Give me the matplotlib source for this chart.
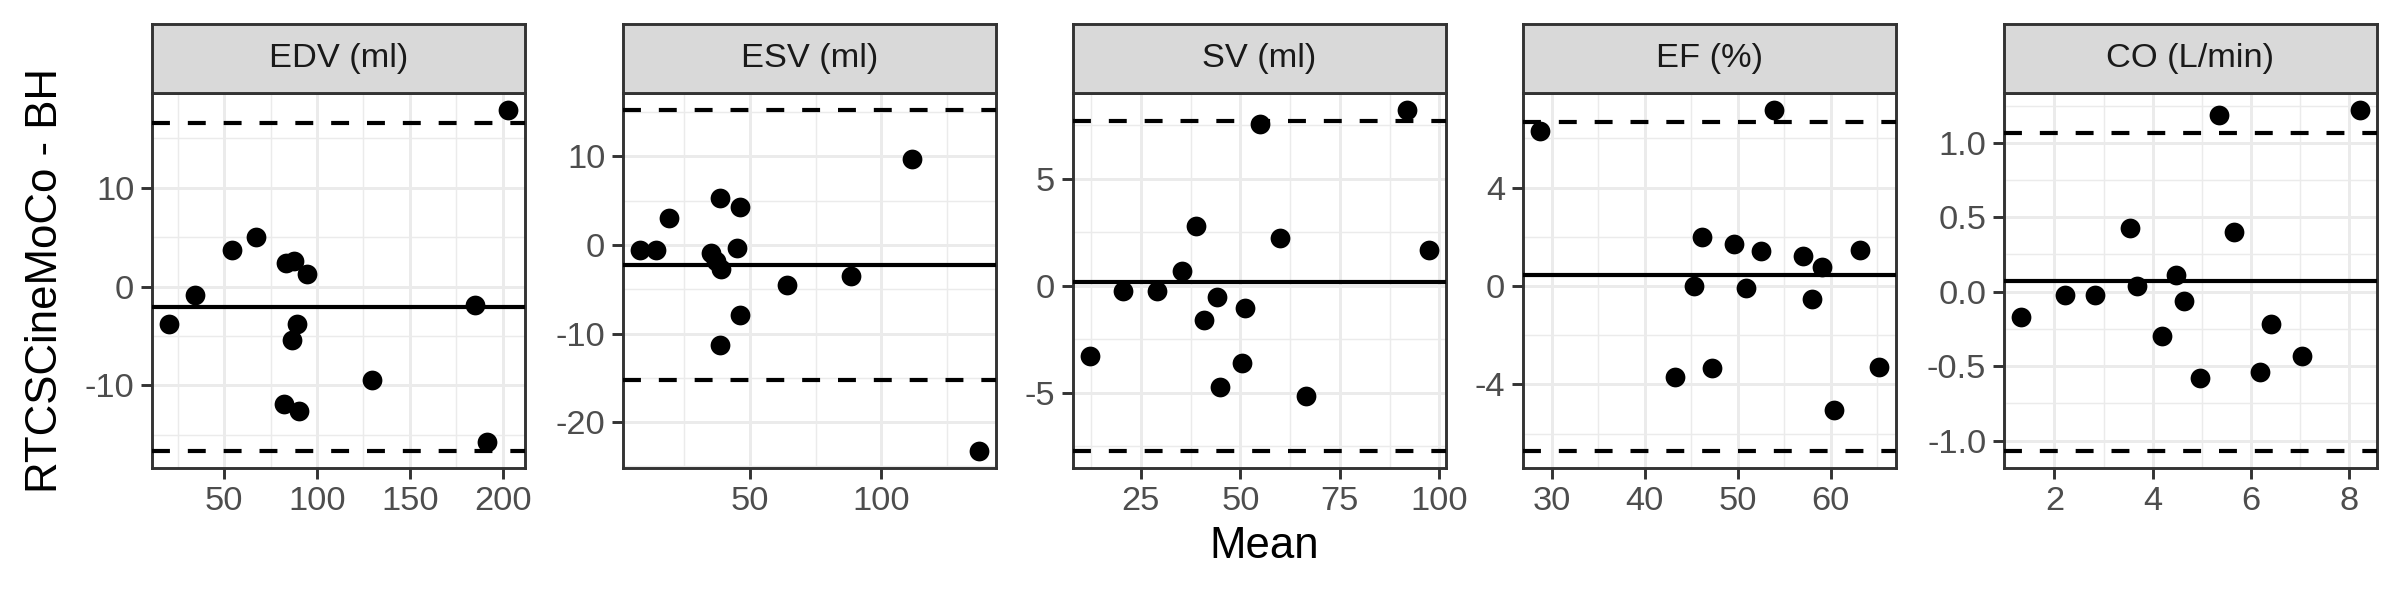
import matplotlib
matplotlib.use("Agg")
import matplotlib.pyplot as plt
from matplotlib.ticker import MultipleLocator, FormatStrFormatter

plt.rcParams['font.family'] = ['Liberation Sans', 'DejaVu Sans']
plt.rcParams['axes.unicode_minus'] = False

# facet titles
titles = ["EDV (ml)", "ESV (ml)", "SV (ml)", "EF (%)", "CO (L/min)"]

# mean of the two methods (x) and difference RTCSCineMoCo - BH (y)
edv_mean = [20.2, 34.2, 54.4, 67.1, 83.1, 87.5, 94.6, 89.4, 86.5, 82.1, 90.4, 129.8, 185.0, 191.3, 202.9]
edv_diff = [-3.75, -0.85, 3.71, 5.07, 2.40, 2.63, 1.28, -3.79, -5.45, -11.9, -12.6, -9.44, -1.82, -15.7, 17.87]

esv_mean = [8.2, 14.3, 19.1, 38.6, 46.2, 35.2, 37.1, 39.0, 45.3, 64.1, 88.4, 46.2, 38.6, 111.8, 137.2]
esv_diff = [-0.52, -0.60, 3.06, 5.35, 4.27, -0.95, -1.81, -2.76, -0.39, -4.57, -3.50, -7.86, -11.35, 9.75, -23.26]

sv_mean = [12.2, 20.6, 29.0, 35.4, 38.8, 40.9, 44.2, 44.9, 50.5, 51.1, 54.8, 59.9, 66.4, 91.8, 97.4]
sv_diff = [-3.30, -0.27, -0.27, 0.68, 2.80, -1.63, -0.55, -4.73, -3.63, -1.05, 7.57, 2.23, -5.14, 8.20, 1.64]

ef_mean = [28.7, 53.85, 43.2, 45.3, 46.1, 47.2, 49.6, 50.9, 52.45, 57.0, 58.0, 59.1, 60.3, 63.1, 65.2]
ef_diff = [6.31, 7.15, -3.69, 0.02, 2.0, -3.33, 1.69, -0.09, 1.41, 1.22, -0.53, 0.76, -5.02, 1.47, -3.27]

co_mean = [1.32, 2.22, 2.82, 3.54, 3.68, 4.47, 4.64, 4.20, 4.97, 5.35, 5.65, 6.18, 6.41, 7.03, 8.22]
co_diff = [-0.17, -0.02, -0.02, 0.425, 0.04, 0.11, -0.06, -0.30, -0.58, 1.19, 0.40, -0.54, -0.22, -0.43, 1.22]

# bias and limits of agreement
bias = [-2.05, -2.24, 0.18, 0.43, 0.072]
loa_upper = [16.56, 15.24, 7.70, 6.65, 1.065]
loa_lower = [-16.63, -15.28, -7.73, -6.70, -1.07]

means = [edv_mean, esv_mean, sv_mean, ef_mean, co_mean]
diffs = [edv_diff, esv_diff, sv_diff, ef_diff, co_diff]

# major / minor tick steps per panel (x, y)
x_steps = [(50, 25), (50, 25), (25, 12.5), (10, 5), (2, 1)]
y_steps = [(10, 5), (10, 5), (5, 2.5), (4, 2), (0.5, 0.25)]

lefts = [152, 623, 1073, 1523, 2004]
W, H = 2400, 600
pw = 373 / W
bottom = 0.22
top = 0.845
strip_top = 0.96

fig = plt.figure(figsize=(16, 4), dpi=150)

for i in range(5):
    x0 = lefts[i] / W
    ax = fig.add_axes([x0, bottom, pw, top - bottom])
    ax.set_facecolor("white")

    ax.scatter(means[i], diffs[i], s=90, color="black", linewidths=0, zorder=3)
    ax.axhline(bias[i], color="black", lw=2.0, zorder=4)
    ax.axhline(loa_upper[i], color="black", lw=2.0, ls=(0, (4.3, 4.3)), zorder=4)
    ax.axhline(loa_lower[i], color="black", lw=2.0, ls=(0, (4.3, 4.3)), zorder=4)

    xmin, xmax = min(means[i]), max(means[i])
    dx = (xmax - xmin) * 0.05
    ax.set_xlim(xmin - dx, xmax + dx)
    yvals = diffs[i] + [bias[i], loa_upper[i], loa_lower[i]]
    ymin, ymax = min(yvals), max(yvals)
    dy = (ymax - ymin) * 0.05
    ax.set_ylim(ymin - dy, ymax + dy)

    ax.xaxis.set_major_locator(MultipleLocator(x_steps[i][0]))
    ax.xaxis.set_minor_locator(MultipleLocator(x_steps[i][1]))
    ax.yaxis.set_major_locator(MultipleLocator(y_steps[i][0]))
    ax.yaxis.set_minor_locator(MultipleLocator(y_steps[i][1]))
    if i == 4:
        ax.yaxis.set_major_formatter(FormatStrFormatter('%.1f'))
    else:
        ax.yaxis.set_major_formatter(FormatStrFormatter('%g'))
    ax.xaxis.set_major_formatter(FormatStrFormatter('%g'))

    ax.grid(which="major", color="#EBEBEB", lw=1.4, zorder=0)
    ax.grid(which="minor", color="#EBEBEB", lw=0.7, zorder=0)
    ax.set_axisbelow(True)

    ax.tick_params(which="major", length=5.5, width=1.4, color="#333333",
                   labelsize=16.5, labelcolor="#4D4D4D", pad=3)
    ax.tick_params(which="minor", length=0)
    for sp in ax.spines.values():
        sp.set_color("#333333")
        sp.set_linewidth(1.4)

    # facet strip
    sax = fig.add_axes([x0, top, pw, strip_top - top])
    sax.set_facecolor("#D9D9D9")
    sax.set_xticks([])
    sax.set_yticks([])
    for sp in sax.spines.values():
        sp.set_color("#333333")
        sp.set_linewidth(1.4)
    sax.text(0.5, 0.5, titles[i], ha="center", va="center", fontsize=16.5,
             color="#1A1A1A", transform=sax.transAxes)

fig.text(0.019, (bottom + top) / 2, "RTCSCineMoCo - BH", rotation=90,
         ha="center", va="center", fontsize=21, color="black")
fig.text((lefts[0] / W + 0.99) / 2, 0.089, "Mean", ha="center", va="center",
         fontsize=21, color="black")

fig.savefig("out.png", dpi=150, facecolor="white")
